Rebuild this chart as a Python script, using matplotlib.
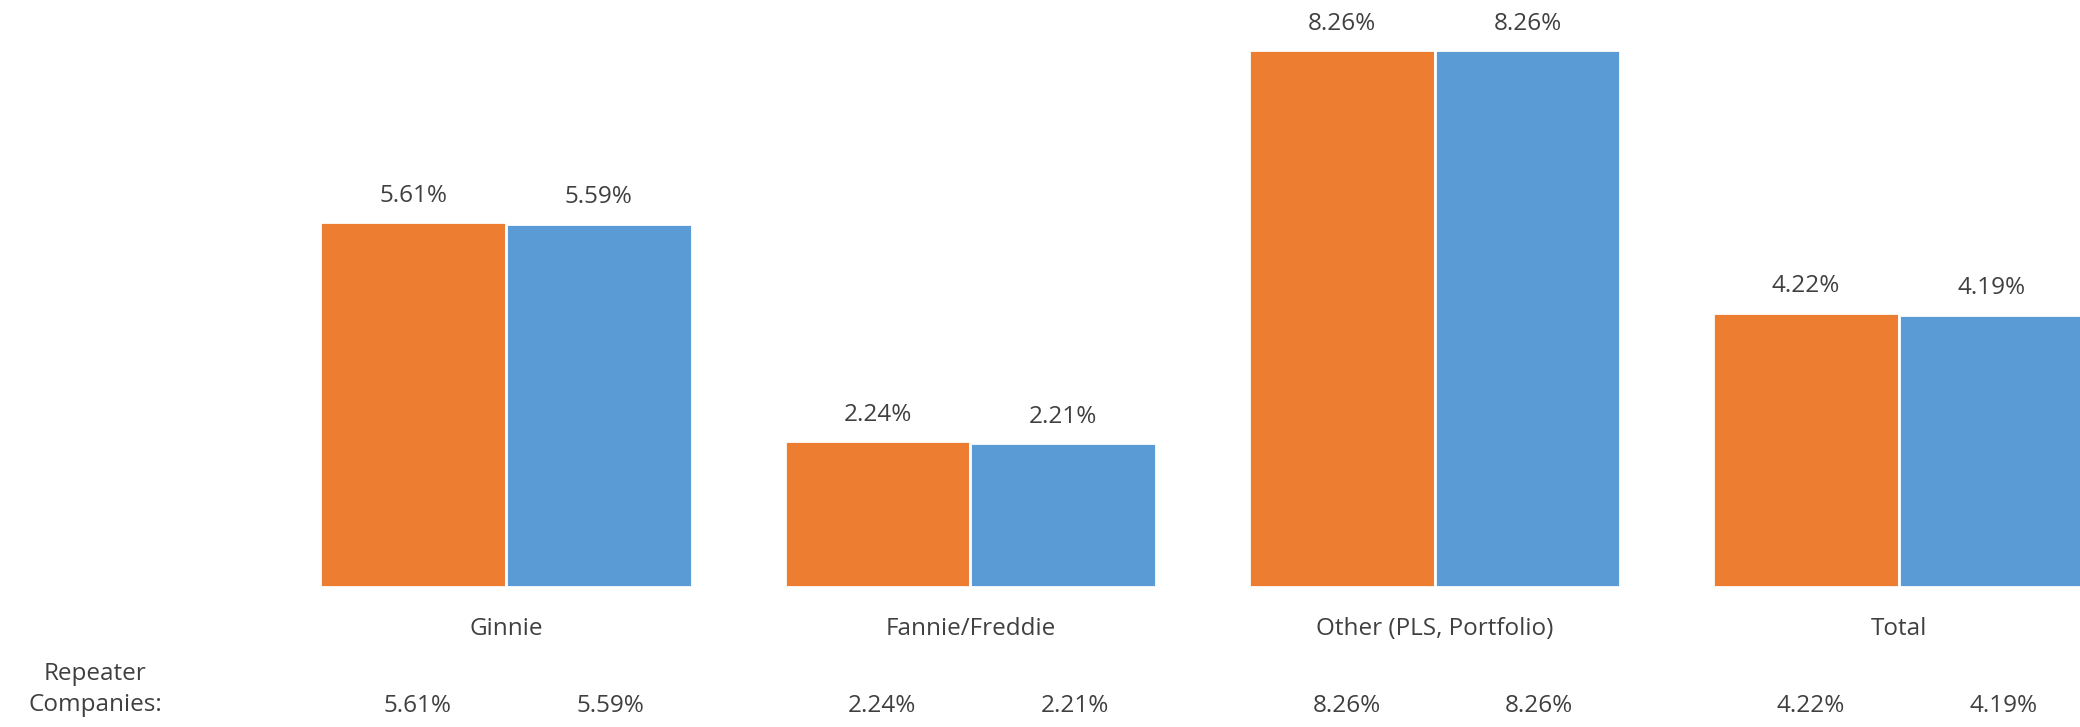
import numpy as np
import matplotlib
matplotlib.use('Agg')
from matplotlib import pyplot as plt

categories = ['Ginnie', 'Fannie/Freddie', 'Other (PLS, Portfolio)', 'Total']
series_a = [5.61, 2.24, 8.26, 4.22]
series_b = [5.59, 2.21, 8.26, 4.19]
row_label = 'Repeater\nCompanies:'

plt.rcParams['font.family'] = ['Open Sans', 'DejaVu Sans']
txt = '#404040'
fs = 17.5

fig = plt.figure(figsize=(20.8, 7.27), dpi=100)
ax = fig.add_axes([0, 0, 1, 1])
ax.set_axis_off()

x = np.arange(len(categories))
w = 0.4
ax.bar(x - w / 2, series_a, w, color='#ED7D31', edgecolor='white', linewidth=2)
ax.bar(x + w / 2, series_b, w, color='#5B9BD5', edgecolor='white', linewidth=2)

for i in range(len(categories)):
    ax.text(x[i] - w / 2, series_a[i] + 0.22, f'{series_a[i]:.2f}%', ha='center',
            va='bottom', fontsize=fs, color=txt)
    ax.text(x[i] + w / 2, series_b[i] + 0.22, f'{series_b[i]:.2f}%', ha='center',
            va='bottom', fontsize=fs, color=txt)
    ax.text(x[i], -0.65, categories[i], ha='center', va='center', fontsize=fs, color=txt)
    # bottom row
    ax.text(x[i] - 0.19, -1.83, f'{series_a[i]:.2f}%', ha='center', va='center',
            fontsize=fs, color=txt)
    ax.text(x[i] + 0.225, -1.83, f'{series_b[i]:.2f}%', ha='center', va='center',
            fontsize=fs, color=txt)

ax.text(-0.885, -1.58, row_label, ha='center', va='center', fontsize=fs,
        color=txt, linespacing=1.4)

ax.set_xlim(-1.09, 3.39)
ax.set_ylim(-2.154, 9.03)

fig.savefig('out.png', dpi=100)
